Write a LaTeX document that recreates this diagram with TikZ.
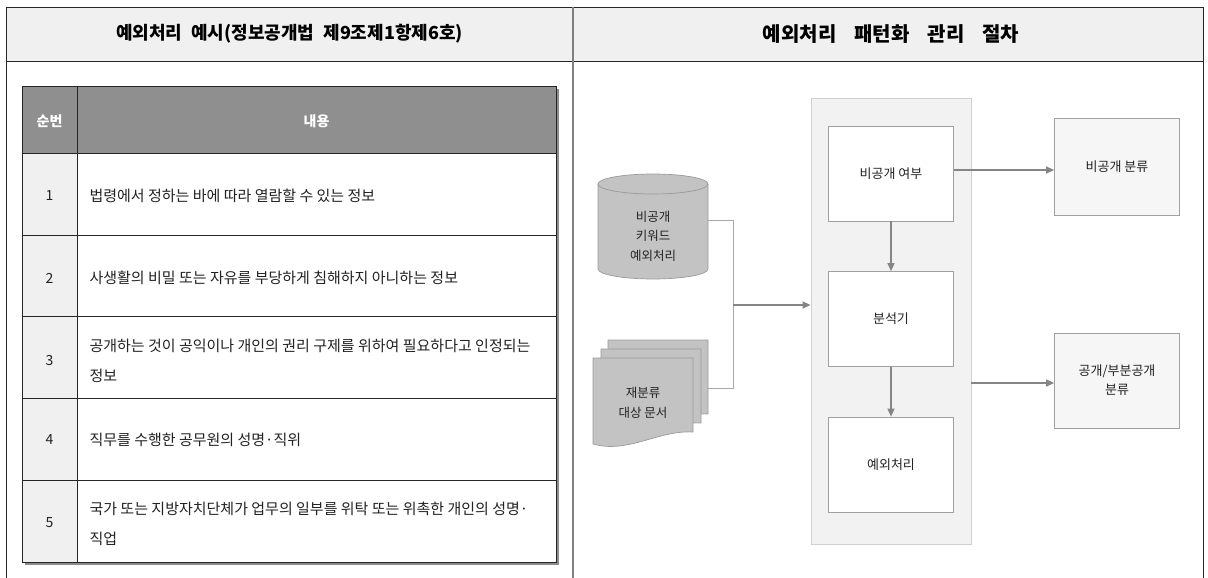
\documentclass[tikz,border=0pt]{standalone}
\usepackage{fontspec}
\setmainfont{Noto Sans CJK KR}
\usetikzlibrary{arrows.meta}
\definecolor{hdrbg}{HTML}{F0F0F0}
\definecolor{tblhead}{HTML}{8F8F8F}
\definecolor{numbg}{HTML}{F0F0F0}
\definecolor{contbg}{HTML}{F2F2F2}
\definecolor{contline}{HTML}{D0D0D0}
\definecolor{boxline}{HTML}{A0A0A0}
\definecolor{outbg}{HTML}{F6F6F6}
\definecolor{shapefill}{HTML}{C3C3C3}
\definecolor{shapeline}{HTML}{9A9A9A}
\definecolor{conncol}{HTML}{858585}
\definecolor{thin}{HTML}{A8A8A8}
\definecolor{txt}{HTML}{222222}
\begin{document}
\begin{tikzpicture}[x=1pt,y=-1pt,
  hdr/.style={font=\fontsize{18}{22}\selectfont\bfseries, text=black},
  hdrb/.style={font=\fontsize{20}{24}\selectfont\bfseries, text=black},
  thd/.style={font=\fontsize{14}{17}\selectfont\bfseries, text=white},
  tnum/.style={font=\fontsize{14}{17}\selectfont, text=txt},
  ttxt/.style={font=\fontsize{15}{30}\selectfont, text=txt, anchor=west, align=left},
  frame/.style={draw=black!85, line width=0.9pt},
  divider/.style={draw=black!50, line width=1.8pt},
  grid/.style={draw=black!85, line width=0.8pt},
  pbox/.style={draw=boxline, fill=white, line width=0.7pt, minimum width=125pt, minimum height=95pt, font=\fontsize{13}{19}\selectfont, text=txt},
  obox/.style={pbox, fill=outbg, align=center},
  shp/.style={draw=shapeline, fill=shapefill, line width=0.7pt},
  stxt/.style={font=\fontsize{12.5}{19.5}\selectfont, text=txt, align=center},
  conn/.style={draw=thin, line width=0.8pt},
  arr/.style={draw=conncol, line width=1.3pt, -{Triangle[length=8pt,width=7pt]}, shorten >=0pt}
]
\useasboundingbox (0,0) rectangle (1208,578);

% outer frame and headers
\fill[hdrbg] (6,7) rectangle (1203,61);
\draw[frame] (6,578) -- (6,7) -- (1203,7) -- (1203,578);
\draw[frame] (6,61) -- (1203,61);
\draw[divider] (573,7) -- (573,578);
\node[hdr] (h1) at (289.5,34) {예외처리\hspace{9pt}예시(정보공개법\hspace{9pt}제9조제1항제6호)};
\node[hdrb] (h2) at (891,34) {예외처리\hspace{18pt}패턴화\hspace{18pt}관리\hspace{18pt}절차};

% table
\fill[black!45] (25,89) rectangle (559,565);
\fill[white] (22,86) rectangle (556,562);
\fill[tblhead] (22,86) rectangle (556,153);
\fill[numbg] (22,153) rectangle (77,562);
\draw[grid] (22,86) rectangle (556,562);
\draw[grid] (77,86) -- (77,562);
\foreach \yy in {153,235,316,398,480} \draw[grid] (22,\yy) -- (556,\yy);

\node[thd] (c1) at (49.5,121) {순번};
\node[thd] (c2) at (316.5,121) {내용};

\node[tnum] (n1) at (49.5,196) {1};
\node[tnum] (n2) at (49.5,278) {2};
\node[tnum] (n3) at (49.5,361) {3};
\node[tnum] (n4) at (49.5,440) {4};
\node[tnum] (n5) at (49.5,523) {5};

\node[ttxt] (r1) at (86,196) {법령에서 정하는 바에 따라 열람할 수 있는 정보};
\node[ttxt] (r2) at (86,278) {사생활의 비밀 또는 자유를 부당하게 침해하지 아니하는 정보};
\node[ttxt] (r3) at (86,361) {공개하는 것이 공익이나 개인의 권리 구제를 위하여 필요하다고 인정되는\\정보};
\node[ttxt] (r4) at (86,440) {직무를 수행한 공무원의 성명·직위};
\node[ttxt] (r5) at (86,524) {국가 또는 지방자치단체가 업무의 일부를 위탁 또는 위촉한 개인의 성명·\\직업};

% right diagram: container
\node[draw=contline, fill=contbg, line width=0.8pt, minimum width=160pt, minimum height=446pt, inner sep=0pt] (cont) at (891,321) {};

\node[pbox] (b1) at (891,173.5) {비공개 여부};
\node[pbox] (b2) at (891,319) {분석기};
\node[pbox] (b3) at (891,464.5) {예외처리};

\node[obox, minimum height=97pt] (o1) at (1117,166.5) {비공개 분류};
\node[obox] (o2) at (1117,380.5) {공개/부분공개\\분류};

\draw[arr] (b1) -- (b2);
\draw[arr] (b2) -- (b3);
\draw[arr] (b1.east |- 0,170) -- (o1.west |- 0,170);
\draw[arr] (cont.east |- 0,383) -- (o2.west |- 0,383);

% cylinder
\draw[shp] (598,184) -- (598,269) arc[start angle=180, end angle=0, x radius=55, y radius=10] -- (708,184) arc[start angle=0, end angle=-180, x radius=55, y radius=10] -- cycle;
\draw[shp] (598,184) arc[start angle=180, end angle=0, x radius=55, y radius=10];
\node[minimum width=110pt, minimum height=105pt, inner sep=0pt] (cyl) at (653,226) {};
\node[stxt] (cyltxt) at (653,236) {비공개\\키워드\\예외처리};

% documents
\foreach \xo/\yo in {608/340, 601/349, 593/358} {
  \draw[shp] (\xo,\yo) -- (\xo+100,\yo) -- (\xo+100,\yo+74)
    .. controls (\xo+65,\yo+72) and (\xo+35,\yo+96) .. (\xo,\yo+86) -- cycle;
}
\node[minimum width=115pt, minimum height=105pt, inner sep=0pt] (docs) at (650,392) {};
\node[stxt] (doctxt) at (643,403) {재분류\\대상 문서};

% connectors
\coordinate (j) at (733,305);
\draw[conn] ([yshift=6pt]cyl.east) -| (j);
\draw[conn] (docs.east |- 0,388) -| (j);
\draw[arr] (j) -- (j -| cont.west);
\end{tikzpicture}
\end{document}
